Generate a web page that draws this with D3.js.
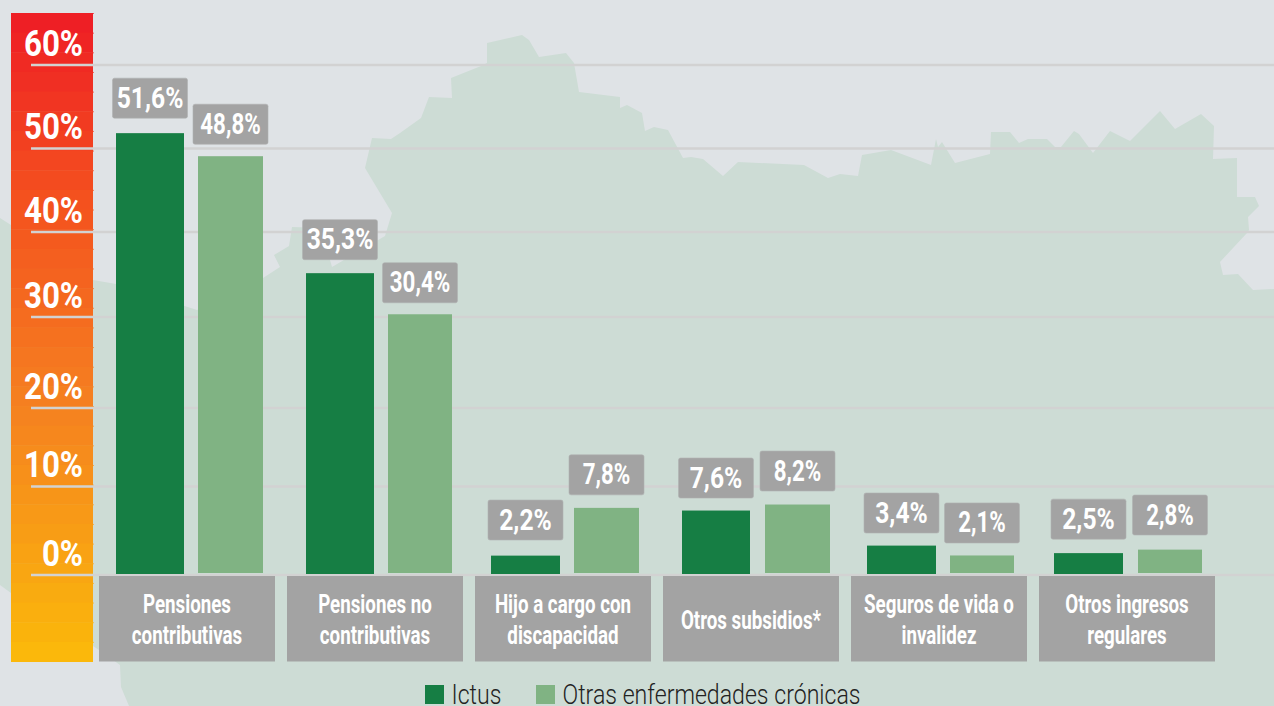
<!DOCTYPE html>
<html><head><meta charset="utf-8">
<script src="https://cdn.jsdelivr.net/npm/d3@7"></script>
<style>html,body{margin:0;padding:0;background:#dfe3e6}svg{display:block}text{font-family:Roboto,sans-serif}</style>
</head><body><div id="chart"></div>
<script>
const categories = [["Pensiones","contributivas"],["Pensiones no","contributivas"],["Hijo a cargo con","discapacidad"],["Otros subsidios*"],["Seguros de vida o","invalidez"],["Otros ingresos","regulares"]];
const ictus = [51.6,35.3,2.2,7.6,3.4,2.5];
const otras = [48.8,30.4,7.8,8.2,2.1,2.8];
const tickValues = [0,10,20,30,40,50,60];
const legendLabels = ["Ictus","Otras enfermedades crónicas"];

const W=1274,H=706;
const svg=d3.select("#chart").append("svg").attr("width",W).attr("height",H);
svg.append("rect").attr("width",W).attr("height",H).attr("fill","#dfe3e6");

// background map silhouette
const mapOutline=[[0,218],[11,225],[93,280],[116,284],[197,310],[263,278],[280,267],[274,255],[289,246],[292,227],[325,228],[330,260],[332,267],[385,236],[392,213],[365,168],[372,138],[391,139],[400,133],[421,118],[429,97],[452,98],[451,78],[481,66],[487,63],[487,43],[522,35],[529,40],[539,57],[566,53],[574,63],[579,92],[620,97],[620,108],[627,105],[642,113],[645,131],[654,127],[668,130],[683,158],[691,157],[703,159],[723,176],[738,162],[804,165],[828,178],[840,174],[858,176],[862,155],[891,150],[931,165],[936,139],[938,147],[942,142],[955,163],[990,154],[991,132],[1010,132],[1019,143],[1028,139],[1047,139],[1055,147],[1061,147],[1074,131],[1079,134],[1093,153],[1110,131],[1130,141],[1160,111],[1175,129],[1201,114],[1214,126],[1213,159],[1237,158],[1237,197],[1255,197],[1259,206],[1248,217],[1249,230],[1247,233],[1220,262],[1223,275],[1238,274],[1253,290],[1274,289],[1274,706],[129,706],[121,687],[120,665],[99,650],[93,646],[11,593],[0,585]];
svg.append("path").attr("d",d3.line()(mapOutline)+"Z").attr("fill","#cddcd5");

// gradient scale bar
const barTop=13,barBottom=661.5;
const colorAt=d3.scaleLinear().domain([0,.3,.6,1]).range(["#ee1c25","#f4531e","#f58020","#fbba0a"]).interpolate(d3.interpolateRgb);
const bands=d3.range(0,33);
const bh=(barBottom-barTop)/33;
svg.append("g").selectAll("rect").data(bands).join("rect")
 .attr("x",11).attr("width",82).attr("y",i=>barTop+i*bh).attr("height",bh+.5)
 .attr("fill",i=>colorAt((i+.5)/33));
svg.append("g").selectAll("rect").data(bands).join("rect")
 .attr("x",93).attr("width",1).attr("y",i=>barTop+i*bh).attr("height",1)
 .attr("fill",i=>colorAt((i+.5)/33)).attr("opacity",.7);

// axis (the printed gridlines are unevenly spaced)
const yTick=d3.scaleLinear().domain(tickValues).range([574.5,486,407.5,316.5,231.5,148,64.5]);
const axis=svg.append("g").attr("transform","translate(31,0)")
 .call(d3.axisRight(yTick).tickValues(tickValues).tickSize(W-31).tickFormat(d=>d+"%"));
axis.select(".domain").remove();
axis.selectAll("line").attr("stroke","#d2d2d2").attr("stroke-width",2.4);
axis.selectAll("text").attr("x",0).attr("y",0).attr("dy",0)
 .attr("text-anchor","end").attr("fill","#fff").attr("font-size",36).attr("font-weight",700)
 .style("font-family","Roboto,sans-serif")
 .attr("transform","translate(52,-9.5) scale(.87,1)");

// bar scales
const y=d3.scaleLinear().domain([0,10,60]).range([574,490.5,61]);
const boxX=d3.scaleBand().domain(d3.range(6)).range([99,1215]).paddingInner(12/188).paddingOuter(0);
const ictusX=d3.scaleOrdinal().domain(d3.range(6)).range([116,306,491,682,867,1054]);
const otrasX=d3.scaleOrdinal().domain(d3.range(6)).range([198,388,574,765,950,1138]);
const ictusW=d3.scaleOrdinal().domain(d3.range(6)).range([68,68,69,68,69,69]);
const otrasW=d3.scaleOrdinal().domain(d3.range(6)).range([65,64,65,65,64,64]);
const ictusGap=[15,13.5,15.6,12.5,12.6,14];
const otrasGap=[12,11.5,13,13.5,12.5,14.6];

const series=[
 {vals:ictus,x:ictusX,w:ictusW,gap:ictusGap,color:"#167e44",base:0,squeeze:.85},
 {vals:otras,x:otrasX,w:otrasW,gap:otrasGap,color:"#80b383",base:1,squeeze:.77}
];
const fmt=v=>v.toFixed(1).replace(".",",")+"%";
series.forEach(s=>{
 const g=svg.append("g");
 const items=s.vals.map((v,i)=>({v,i}));
 g.selectAll("rect.bar").data(items).join("rect").attr("class","bar")
  .attr("x",d=>s.x(d.i)).attr("width",d=>s.w(d.i))
  .attr("y",d=>y(d.v)-s.base).attr("height",d=>y(0)-y(d.v))
  .attr("fill",s.color);
 const lab=g.selectAll("g.lab").data(items).join("g").attr("class","lab")
  .attr("transform",d=>`translate(${s.x(d.i)+s.w(d.i)/2},${y(d.v)-s.base-s.gap[d.i]})`);
 lab.append("rect").attr("x",-37.5).attr("y",-40).attr("width",75).attr("height",40).attr("rx",2)
  .attr("fill","#a3a3a3").attr("stroke","#b0b2b2").attr("stroke-width",.6);
 lab.append("text").text(d=>fmt(d.v)).attr("text-anchor","middle").attr("fill","#fff")
  .attr("font-size",29).attr("font-weight",700).attr("transform",`translate(0,-10.5) scale(${s.squeeze},1)`);
});

// category boxes
const cat=svg.append("g").selectAll("g").data(categories).join("g")
 .attr("transform",(d,i)=>`translate(${boxX(i)},576)`);
cat.append("rect").attr("width",boxX.bandwidth()).attr("height",85.5).attr("fill","#a3a3a3");
cat.each(function(lines){
 const g=d3.select(this);
 const ys=lines.length===2?[37,68]:[53];
 lines.forEach((t,k)=>g.append("text").text(t).attr("text-anchor","middle").attr("fill","#fff")
   .attr("font-size",25).attr("font-weight",700)
   .attr("transform",`translate(${boxX.bandwidth()/2},${ys[k]}) scale(.75,1)`));
});

// legend
const legX=d3.scaleOrdinal().domain(legendLabels).range([425,536]);
const leg=svg.append("g").selectAll("g").data(legendLabels).join("g")
 .attr("transform",d=>`translate(${legX(d)},685)`);
leg.append("rect").attr("width",19).attr("height",19).attr("fill",(d,i)=>series[i].color);
leg.append("text").text(d=>d).attr("fill","#222").attr("font-size",27).attr("font-weight",300)
 .attr("transform","translate(26.5,18.5) scale(.856,1)");
</script></body></html>
